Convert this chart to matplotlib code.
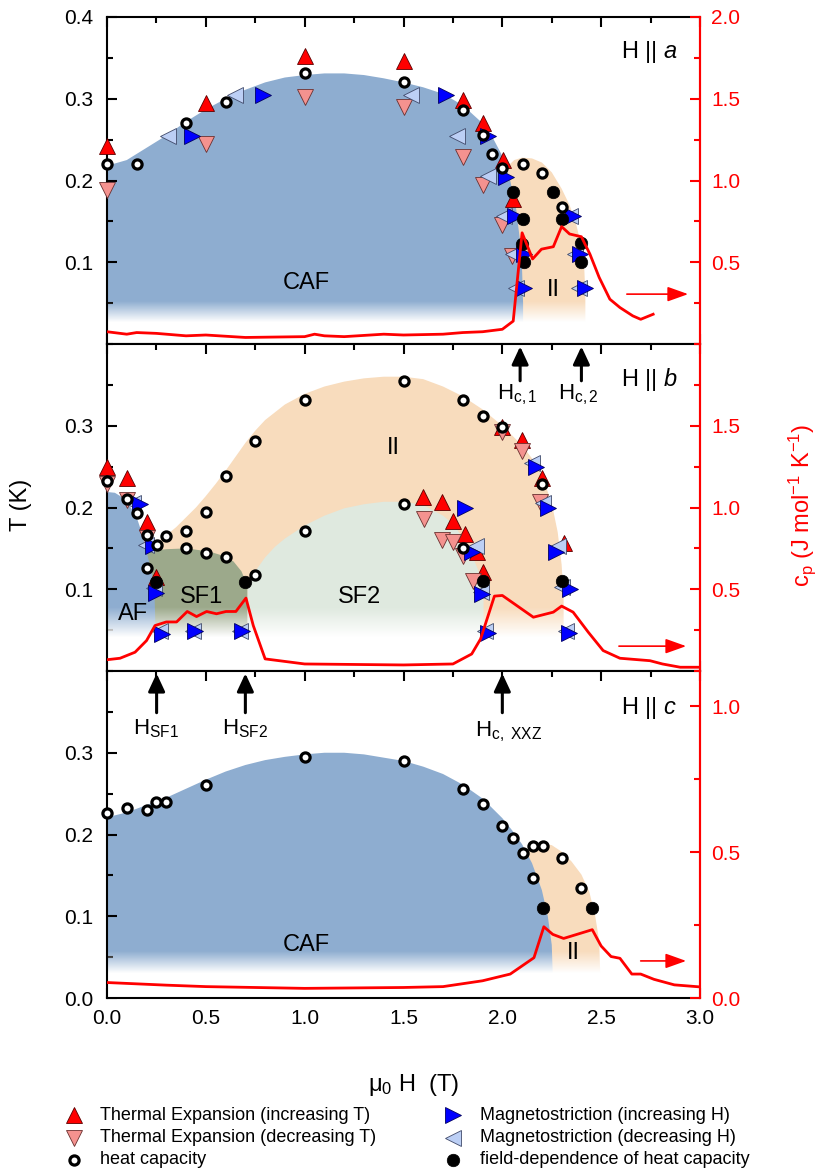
import numpy as np
import matplotlib
matplotlib.use('Agg')
import matplotlib.pyplot as plt
from matplotlib.lines import Line2D
from matplotlib.ticker import MultipleLocator, FormatStrFormatter

plt.rcParams['font.family'] = ['Liberation Sans', 'DejaVu Sans']
plt.rcParams['mathtext.fontset'] = 'custom'
plt.rcParams['mathtext.rm'] = 'Liberation Sans'
plt.rcParams['mathtext.it'] = 'Liberation Sans:italic'
plt.rcParams['mathtext.default'] = 'regular'

# ---------------- data: panel a (H || a) ----------------
te_up_a_H = [0.0, 0.50, 1.0, 1.5, 1.80, 1.90, 2.005, 2.055]
te_up_a_T = [0.242, 0.295, 0.352, 0.346, 0.299, 0.270, 0.225, 0.177]
te_dn_a_H = [0.0, 0.50, 1.0, 1.5, 1.80, 1.90, 2.0, 2.05]
te_dn_a_T = [0.188, 0.245, 0.302, 0.290, 0.229, 0.195, 0.146, 0.108]
ms_up_a_H = [0.428, 0.79, 1.715, 1.925, 2.02, 2.064, 2.36, 2.11, 2.393, 2.109, 2.418]
ms_up_a_T = [0.254, 0.304, 0.304, 0.254, 0.204, 0.156, 0.156, 0.110, 0.110, 0.068, 0.068]
ms_dn_a_H = [0.307, 0.647, 1.54, 1.77, 1.93, 2.008, 2.342, 2.055, 2.367, 2.069, 2.39]
ms_dn_a_T = [0.254, 0.304, 0.305, 0.255, 0.206, 0.157, 0.157, 0.110, 0.110, 0.068, 0.068]
hc_a_H = [0.0, 0.15, 0.40, 0.60, 1.0, 1.5, 1.80, 1.90, 1.95, 2.00, 2.106, 2.20, 2.30]
hc_a_T = [0.220, 0.220, 0.270, 0.296, 0.332, 0.321, 0.286, 0.256, 0.233, 0.215, 0.220, 0.209, 0.168]
hcf_a_H = [2.055, 2.255, 2.106, 2.30, 2.097, 2.40, 2.11, 2.40]
hcf_a_T = [0.186, 0.186, 0.153, 0.153, 0.122, 0.123, 0.100, 0.100]
cp_a_H = [0.0, 0.1, 0.15, 0.25, 0.4, 0.5, 0.7, 1.0, 1.05, 1.1, 1.2, 1.4, 1.5, 1.7, 1.8, 1.9,
          2.0, 2.055, 2.10, 2.153, 2.198, 2.258, 2.30, 2.34, 2.40, 2.443, 2.49, 2.544, 2.595,
          2.66, 2.70, 2.763]
cp_a = [0.075, 0.06, 0.07, 0.065, 0.05, 0.055, 0.04, 0.045, 0.06, 0.05, 0.045, 0.06, 0.055,
        0.06, 0.07, 0.075, 0.09, 0.14, 0.68, 0.52, 0.58, 0.595, 0.718, 0.673, 0.656, 0.55,
        0.407, 0.274, 0.223, 0.172, 0.151, 0.182]

# ---------------- data: panel b (H || b) ----------------
te_up_b_H = [0.0, 0.103, 0.204, 0.25, 1.60, 1.696, 1.75, 1.81, 1.87, 1.90, 2.0, 2.10, 2.20, 2.31]
te_up_b_T = [0.250, 0.236, 0.182, 0.115, 0.213, 0.207, 0.183, 0.167, 0.146, 0.121, 0.298, 0.283, 0.236, 0.156]
te_dn_b_H = [0.0, 0.10, 0.20, 1.603, 1.696, 1.75, 1.80, 1.85, 2.0, 2.10, 2.19]
te_dn_b_T = [0.229, 0.209, 0.163, 0.186, 0.160, 0.158, 0.141, 0.110, 0.292, 0.269, 0.207]
ms_up_b_H = [0.167, 0.234, 0.25, 0.28, 0.445, 0.684, 1.81, 1.845, 1.895, 1.925, 2.17, 2.23, 2.27, 2.34, 2.335]
ms_up_b_T = [0.204, 0.153, 0.096, 0.045, 0.049, 0.049, 0.199, 0.146, 0.094, 0.047, 0.250, 0.200, 0.146, 0.100, 0.047]
ms_dn_b_H = [0.133, 0.197, 0.24, 0.27, 0.435, 0.672, 1.866, 1.89, 1.91, 2.148, 2.207, 2.28, 2.30, 2.32]
ms_dn_b_T = [0.205, 0.154, 0.101, 0.049, 0.049, 0.049, 0.153, 0.097, 0.049, 0.255, 0.205, 0.153, 0.103, 0.049]
hc_b_H = [0.0, 0.10, 0.15, 0.20, 0.20, 0.255, 0.30, 0.40, 0.40, 0.50, 0.50, 0.60, 0.60, 0.75, 0.75,
          1.0, 1.0, 1.5, 1.5, 1.80, 1.80, 1.90, 2.0, 2.20]
hc_b_T = [0.232, 0.210, 0.193, 0.166, 0.126, 0.154, 0.165, 0.171, 0.151, 0.195, 0.144, 0.238, 0.140,
          0.281, 0.118, 0.331, 0.171, 0.355, 0.204, 0.332, 0.151, 0.312, 0.298, 0.229]
hcf_b_H = [0.25, 0.70, 1.90, 2.30]
hcf_b_T = [0.109, 0.109, 0.110, 0.110]
cp_b_H = [0.0, 0.066, 0.142, 0.20, 0.243, 0.30, 0.352, 0.406, 0.453, 0.504, 0.554, 0.602, 0.652,
          0.703, 0.74, 0.80, 1.0, 1.5, 1.75, 1.845, 1.89, 1.96, 2.0, 2.157, 2.258, 2.30, 2.358,
          2.435, 2.51, 2.595, 2.747, 2.81, 2.90, 3.0]
cp_b = [0.069, 0.078, 0.115, 0.186, 0.278, 0.30, 0.30, 0.364, 0.333, 0.364, 0.35, 0.364, 0.364,
        0.446, 0.278, 0.074, 0.043, 0.037, 0.043, 0.104, 0.196, 0.458, 0.462, 0.329, 0.36, 0.397,
        0.36, 0.237, 0.125, 0.078, 0.063, 0.043, 0.023, 0.023]

# ---------------- data: panel c (H || c) ----------------
hc_c_H = [0.0, 0.10, 0.204, 0.25, 0.30, 0.50, 1.0, 1.50, 1.80, 1.90, 2.0, 2.055, 2.106, 2.153,
          2.207, 2.30, 2.153, 2.40]
hc_c_T = [0.226, 0.232, 0.230, 0.240, 0.240, 0.260, 0.295, 0.290, 0.256, 0.237, 0.211, 0.196,
          0.177, 0.186, 0.186, 0.171, 0.147, 0.135]
hcf_c_H = [2.204, 2.455]
hcf_c_T = [0.110, 0.110]
cp_c_H = [0.0, 0.3, 0.5, 1.0, 1.5, 1.7, 1.9, 2.04, 2.16, 2.21, 2.255, 2.31, 2.455, 2.50, 2.55,
          2.595, 2.655, 2.70, 2.767, 2.87, 3.0]
cp_c = [0.053, 0.044, 0.039, 0.033, 0.036, 0.039, 0.059, 0.082, 0.138, 0.244, 0.218, 0.204,
        0.234, 0.178, 0.142, 0.136, 0.082, 0.082, 0.064, 0.045, 0.038]

# ---------------- phase regions (outline points) ----------------
caf_a_H = [0, 0.1, 0.2, 0.3, 0.4, 0.5, 0.6, 0.7, 0.8, 0.9, 1.0, 1.1, 1.2, 1.3, 1.4, 1.5, 1.6,
           1.7, 1.8, 1.9, 1.95, 2.0, 2.04, 2.07, 2.09, 2.10, 2.105, 2.105]
caf_a_T = [0.218, 0.225, 0.24, 0.255, 0.272, 0.287, 0.30, 0.311, 0.32, 0.326, 0.329, 0.331,
           0.331, 0.329, 0.325, 0.32, 0.314, 0.306, 0.292, 0.27, 0.253, 0.23, 0.2, 0.165,
           0.125, 0.09, 0.05, 0.0]
ii_a_H = [2.0, 2.03, 2.06, 2.1, 2.15, 2.2, 2.25, 2.3, 2.34, 2.37, 2.40, 2.415, 2.42, 2.42]
ii_a_T = [0.20, 0.218, 0.225, 0.228, 0.227, 0.222, 0.21, 0.19, 0.17, 0.15, 0.12, 0.09, 0.06, 0.0]

ii_b_H = [0.15, 0.2, 0.25, 0.3, 0.35, 0.4, 0.45, 0.5, 0.55, 0.6, 0.65, 0.7, 0.75, 0.8, 0.9, 1.0,
          1.1, 1.2, 1.3, 1.4, 1.5, 1.6, 1.7, 1.8, 1.9, 2.0, 2.1, 2.15, 2.2, 2.25, 2.28, 2.3,
          2.31, 2.31]
ii_b_T = [0.15, 0.152, 0.158, 0.166, 0.176, 0.188, 0.2, 0.214, 0.229, 0.245, 0.262, 0.279,
          0.294, 0.307, 0.326, 0.339, 0.348, 0.354, 0.358, 0.36, 0.36, 0.357, 0.348, 0.336,
          0.32, 0.30, 0.276, 0.26, 0.24, 0.205, 0.17, 0.13, 0.09, 0.0]
sf1_H = [0.2, 0.3, 0.403, 0.52, 0.6, 0.64, 0.68, 0.71, 0.71]
sf1_T = [0.146, 0.149, 0.150, 0.146, 0.140, 0.134, 0.122, 0.105, 0.0]
sf2_H = [0.71, 0.75, 0.8, 0.85, 0.9, 1.0, 1.1, 1.2, 1.3, 1.4, 1.5, 1.6, 1.7, 1.75, 1.8, 1.85,
         1.9, 1.905, 1.905]
sf2_T = [0.105, 0.122, 0.139, 0.152, 0.162, 0.178, 0.19, 0.199, 0.204, 0.207, 0.207, 0.203,
         0.19, 0.18, 0.163, 0.14, 0.11, 0.0965, 0.0]
af_H = [0, 0.04, 0.08, 0.12, 0.15, 0.175, 0.20, 0.226, 0.24, 0.245, 0.245]
af_T = [0.219, 0.218, 0.212, 0.2, 0.188, 0.170, 0.146, 0.121, 0.097, 0.056, 0.0]

caf_c_H = [0, 0.1, 0.2, 0.3, 0.4, 0.5, 0.6, 0.7, 0.8, 0.9, 1.0, 1.1, 1.2, 1.3, 1.4, 1.5, 1.6,
           1.7, 1.8, 1.9, 2.0, 2.05, 2.1, 2.15, 2.2, 2.23, 2.25, 2.255, 2.255]
caf_c_T = [0.221, 0.227, 0.236, 0.245, 0.256, 0.267, 0.277, 0.285, 0.291, 0.295, 0.298, 0.3,
           0.3, 0.298, 0.294, 0.29, 0.283, 0.274, 0.261, 0.244, 0.22, 0.205, 0.188, 0.165,
           0.132, 0.1, 0.065, 0.03, 0.0]
ii_c_H = [2.10, 2.15, 2.2, 2.25, 2.3, 2.35, 2.4, 2.44, 2.47, 2.49, 2.495, 2.495]
ii_c_T = [0.178, 0.186, 0.189, 0.187, 0.179, 0.167, 0.151, 0.13, 0.1, 0.07, 0.03, 0.0]

C_BLUE = '#8eadd0'
C_ORANGE = '#f8dcbd'
C_SF1 = '#9ca98b'
C_SF2 = '#dfe9df'

fig = plt.figure(figsize=(8.3, 11.74), dpi=100)
L, W = 107 / 830, 593 / 830


def fy(px):
    return 1 - px / 1174


ax_a = fig.add_axes([L, fy(344), W, 327 / 1174])
ax_b = fig.add_axes([L, fy(671), W, 327 / 1174])
ax_c = fig.add_axes([L, fy(998), W, 327 / 1174])


def region(ax, H, T, color, closeH=None):
    h = list(H)
    t = list(T)
    h.append(h[0] if closeH is None else closeH)
    t.append(0.0)
    ax.fill(h, t, color=color, lw=0, zorder=1)


def fade(ax, t_hi, t_lo):
    alpha = np.linspace(1, 0, 200)
    img = np.ones((200, 1, 4))
    img[:, 0, 3] = alpha
    ax.imshow(img, extent=[0, 3, t_lo, t_hi], origin='lower', aspect='auto',
              zorder=2, interpolation='bilinear')
    ax.axhspan(0, t_lo, color='white', lw=0, zorder=2)


S_UP = dict(marker='^', ms=11, mfc='#ff0000', mec='#5a0000', mew=0.6)
S_DN = dict(marker='v', ms=11, mfc='#f4928f', mec='#6a3030', mew=0.6)
S_MU = dict(marker='>', ms=11, mfc='#0000ff', mec='#000060', mew=0.6)
S_MD = dict(marker='<', ms=11, mfc='#bccff5', mec='#404a6a', mew=0.6)
S_HC = dict(marker='o', ms=6.6, mfc='white', mec='black', mew=2.3)
S_HF = dict(marker='o', ms=9.0, mfc='black', mec='black', mew=0.5)


def markers(ax, up, dn, msu, msd, hc, hcf):
    kw = dict(ls='none', zorder=5, clip_on=False)
    if up:
        ax.plot(up[0], up[1], **S_UP, **kw)
    if dn:
        ax.plot(dn[0], dn[1], **S_DN, **kw)
    if msd:
        ax.plot(msd[0], msd[1], **S_MD, **kw)
    if msu:
        ax.plot(msu[0], msu[1], **S_MU, **kw)
    kw6 = dict(ls='none', zorder=6, clip_on=False)
    if hc:
        ax.plot(hc[0], hc[1], **S_HC, **kw6)
    if hcf:
        ax.plot(hcf[0], hcf[1], **S_HF, **kw6)


def style(ax, axr, lyt, ryt, rylim, xlabels=False):
    ax.set_xlim(0, 3)
    ax.set_ylim(0, 0.4)
    ax.xaxis.set_major_locator(MultipleLocator(0.5))
    ax.xaxis.set_minor_locator(MultipleLocator(0.25))
    ax.set_yticks(lyt)
    ax.yaxis.set_minor_locator(MultipleLocator(0.05))
    ax.yaxis.set_major_formatter(FormatStrFormatter('%.1f'))
    ax.xaxis.set_major_formatter(FormatStrFormatter('%.1f'))
    ax.tick_params(axis='both', which='both', direction='in', top=True, right=False,
                   width=1.5, labelsize=15)
    ax.tick_params(axis='y', which='both', pad=10)
    ax.tick_params(axis='x', which='both', pad=8)
    ax.tick_params(which='major', length=7)
    ax.tick_params(which='minor', length=4)
    if not xlabels:
        ax.tick_params(axis='x', labelbottom=False)
    for sp in ax.spines.values():
        sp.set_linewidth(1.5)
    ax.spines['right'].set_color('red')
    axr.set_ylim(*rylim)
    axr.set_yticks(ryt)
    axr.yaxis.set_minor_locator(MultipleLocator(0.25))
    axr.yaxis.set_major_formatter(FormatStrFormatter('%.1f'))
    axr.tick_params(axis='y', which='both', direction='in', colors='red', width=1.5,
                    labelsize=15, pad=8)
    axr.tick_params(which='major', length=7)
    axr.tick_params(which='minor', length=4)
    for sp in axr.spines.values():
        sp.set_linewidth(1.5)
    axr.spines['right'].set_color('red')
    axr.spines['left'].set_visible(False)
    axr.spines['top'].set_visible(False)
    axr.spines['bottom'].set_visible(False)


def red_arrow(axr, h0, h1, y):
    axr.annotate('', xy=(h1, y), xytext=(h0, y),
                 arrowprops=dict(arrowstyle='-|>,head_length=0.7,head_width=0.25',
                                 color='red', lw=1.2, mutation_scale=18, shrinkA=0, shrinkB=0))


def black_arrow(ax, h, t0, t1):
    ax.annotate('', xy=(h, t1), xytext=(h, t0),
                arrowprops=dict(arrowstyle='-|>,head_length=0.6,head_width=0.28',
                                color='black', lw=2.2, mutation_scale=18, shrinkA=0, shrinkB=0),
                zorder=7)


# ---------- panel a ----------
region(ax_a, ii_a_H, ii_a_T, C_ORANGE, closeH=2.0)
region(ax_a, caf_a_H, caf_a_T, C_BLUE)
fade(ax_a, 0.052, 0.027)
markers(ax_a, (te_up_a_H, te_up_a_T), (te_dn_a_H, te_dn_a_T), (ms_up_a_H, ms_up_a_T),
        (ms_dn_a_H, ms_dn_a_T), (hc_a_H, hc_a_T), (hcf_a_H, hcf_a_T))
axr_a = ax_a.twinx()
axr_a.plot(cp_a_H, cp_a, color='red', lw=2.0, zorder=4)
style(ax_a, axr_a, [0.1, 0.2, 0.3, 0.4], [0.5, 1.0, 1.5, 2.0], (0, 2.0))
red_arrow(axr_a, 2.63, 2.94, 0.305)
ax_a.text(2.60, 0.357, r'H || $\mathit{a}$', fontsize=17, va='center', ha='left', zorder=8)
ax_a.text(1.01, 0.0745, 'CAF', fontsize=17, ha='center', va='center', zorder=8)
ax_a.text(2.26, 0.066, 'II', fontsize=17, ha='center', va='center', zorder=8)

# ---------- panel b ----------
region(ax_b, ii_b_H, ii_b_T, C_ORANGE)
region(ax_b, sf2_H, sf2_T, C_SF2, closeH=0.71)
region(ax_b, sf1_H, sf1_T, C_SF1, closeH=0.2)
region(ax_b, af_H, af_T, C_BLUE)
fade(ax_b, 0.078, 0.042)
markers(ax_b, (te_up_b_H, te_up_b_T), (te_dn_b_H, te_dn_b_T), (ms_up_b_H, ms_up_b_T),
        (ms_dn_b_H, ms_dn_b_T), (hc_b_H, hc_b_T), (hcf_b_H, hcf_b_T))
axr_b = ax_b.twinx()
axr_b.plot(cp_b_H, cp_b, color='red', lw=2.0, zorder=4)
style(ax_b, axr_b, [0.1, 0.2, 0.3], [0.5, 1.0, 1.5], (0, 2.0))
red_arrow(axr_b, 2.59, 2.93, 0.152)
ax_b.text(2.60, 0.356, r'H || $\mathit{b}$', fontsize=17, va='center', ha='left', zorder=8)
ax_b.text(1.45, 0.273, 'II', fontsize=17, ha='center', va='center', zorder=8)
ax_b.text(0.48, 0.091, 'SF1', fontsize=17, ha='center', va='center', zorder=8)
ax_b.text(1.28, 0.091, 'SF2', fontsize=17, ha='center', va='center', zorder=8)
ax_b.text(0.13, 0.070, 'AF', fontsize=17, ha='center', va='center', zorder=8)
black_arrow(ax_b, 2.09, 0.355, 0.397)
black_arrow(ax_b, 2.40, 0.355, 0.397)
ax_b.text(2.075, 0.338, r'H$_{c,1}$', fontsize=16, ha='center', va='center', zorder=8)
ax_b.text(2.385, 0.338, r'H$_{c,2}$', fontsize=16, ha='center', va='center', zorder=8)

# ---------- panel c ----------
region(ax_c, ii_c_H, ii_c_T, C_ORANGE, closeH=2.10)
region(ax_c, caf_c_H, caf_c_T, C_BLUE)
fade(ax_c, 0.056, 0.030)
markers(ax_c, None, None, None, None, (hc_c_H, hc_c_T), (hcf_c_H, hcf_c_T))
axr_c = ax_c.twinx()
axr_c.plot(cp_c_H, cp_c, color='red', lw=2.0, zorder=4)
style(ax_c, axr_c, [0.0, 0.1, 0.2, 0.3], [0.0, 0.5, 1.0], (0, 1.12), xlabels=True)
red_arrow(axr_c, 2.70, 2.93, 0.127)
ax_c.text(2.60, 0.355, r'H || $\mathit{c}$', fontsize=17, va='center', ha='left', zorder=8)
ax_c.text(1.01, 0.065, 'CAF', fontsize=17, ha='center', va='center', zorder=8)
ax_c.text(2.36, 0.055, 'II', fontsize=17, ha='center', va='center', zorder=8)
black_arrow(ax_c, 0.251, 0.349, 0.397)
black_arrow(ax_c, 0.70, 0.349, 0.397)
black_arrow(ax_c, 2.0, 0.349, 0.397)
ax_c.text(0.25, 0.330, r'H$_{SF1}$', fontsize=16, ha='center', va='center', zorder=8)
ax_c.text(0.70, 0.330, r'H$_{SF2}$', fontsize=16, ha='center', va='center', zorder=8)
ax_c.text(2.03, 0.326, r'H$_{c,\ XXZ}$', fontsize=16, ha='center', va='center', zorder=8)

# ---------- axis labels ----------
fig.text(21 / 830, fy(505), 'T (K)', rotation=90, fontsize=17, ha='center', va='center')
fig.text(802 / 830, fy(505), r'c$_p$ (J mol$^{-1}$ K$^{-1}$)', rotation=90, fontsize=17,
         ha='center', va='center', color='red')
fig.text(414 / 830, fy(1085), r'μ$_0$ H  (T)', fontsize=17, ha='center', va='center')

# ---------- legend ----------
leg_labels_1 = ['Thermal Expansion (increasing T)', 'Thermal Expansion (decreasing T)', 'heat capacity']
leg_labels_2 = ['Magnetostriction (increasing H)', 'Magnetostriction (decreasing H)',
                'field-dependence of heat capacity']
leg_style_1 = [S_UP, S_DN, S_HC]
leg_style_2 = [S_MU, S_MD, S_HF]
rows = [1115, 1138, 1160]
for i, y in enumerate(rows):
    fig.add_artist(Line2D([74 / 830], [fy(y)], transform=fig.transFigure, ls='none', **leg_style_1[i]))
    fig.text(100 / 830, fy(y), leg_labels_1[i], fontsize=13, ha='left', va='center')
    fig.add_artist(Line2D([453 / 830], [fy(y)], transform=fig.transFigure, ls='none', **leg_style_2[i]))
    fig.text(480 / 830, fy(y), leg_labels_2[i], fontsize=13, ha='left', va='center')

fig.savefig('out.png', dpi=100)
